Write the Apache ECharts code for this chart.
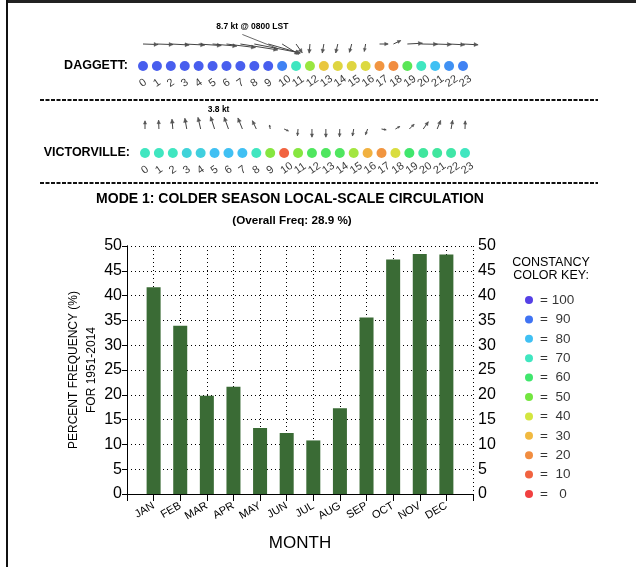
<!DOCTYPE html>
<html>
<head>
<meta charset="utf-8">
<script src="https://cdn.jsdelivr.net/npm/echarts@6/dist/echarts.min.js"></script>
<style>
  html, body { margin: 0; padding: 0; background: #fff; }
  #chart { width: 636px; height: 567px; }
</style>
</head>
<body>
<div id="chart"></div>
<script>
// ---- data ----
const months = ['JAN', 'FEB', 'MAR', 'APR', 'MAY', 'JUN', 'JUL', 'AUG', 'SEP', 'OCT', 'NOV', 'DEC'];
const freq = [41.7, 33.9, 19.8, 21.6, 13.3, 12.3, 10.8, 17.3, 35.6, 47.3, 48.4, 48.3];

const hours = [0, 1, 2, 3, 4, 5, 6, 7, 8, 9, 10, 11, 12, 13, 14, 15, 16, 17, 18, 19, 20, 21, 22, 23];

// Daggett: mean wind speed (kt), direction the arrow points (deg, 0 = east, ccw), constancy (%)
const daggettSpeed = [2.8, 3.0, 3.4, 3.7, 4.2, 4.5, 5.4, 7.0, 8.7, 6.1, 3.6, 2.0, 1.7, 1.7, 1.7, 1.6, 1.4, 1.6, 1.5, 2.8, 3.0, 3.0, 2.9, 2.8];
const daggettDir = [-2, -2, -3, -3, -4, -5, -7, -9, -11, -16, -32, -55, -95, -100, -103, -105, -100, 0, 25, 3, -1, -2, -3, -3];
const daggettConst = [94, 94, 94, 94, 94, 94, 94, 94, 94, 94, 88, 70, 46, 33, 36, 36, 37, 22, 20, 55, 70, 80, 86, 88];

// Victorville
const victorSpeed = [2.4, 2.6, 2.9, 3.2, 3.5, 3.8, 3.7, 3.5, 2.7, 1.2, 1.4, 2.0, 2.4, 2.4, 2.3, 2.1, 1.8, 1.4, 1.5, 2.0, 2.6, 2.7, 2.6, 2.4];
const victorDir = [90, 92, 95, 100, 103, 108, 110, 112, 115, 100, -25, -95, -90, -90, -92, -100, -110, -10, 30, 45, 55, 68, 80, 88];
const victorConst = [70, 70, 70, 75, 76, 80, 80, 80, 70, 48, 10, 48, 57, 57, 57, 45, 28, 22, 38, 60, 66, 66, 67, 70];

// constancy key
const keyValues = [100, 90, 80, 70, 60, 50, 40, 30, 20, 10, 0];
const keyPalette = ['#ee1010', '#ee3c10', '#ee7010', '#eea810', '#c8e010', '#50e010', '#10e048', '#10e0b0', '#10b0f0', '#1050f0', '#2a10e0'];

// ---- styling ----
const FONT = 'Arial, "Liberation Sans", Helvetica, sans-serif';
const chart = echarts.init(document.getElementById('chart'), null, { renderer: 'canvas' });

function pad2(n) { return (n < 10 ? '0' : '') + n; }

// quiver-style arrows anchored at their tail
function arrowSeries(axisIdx, speeds, dirs, pxPerKt, rowY, annot) {
  const maxIdx = speeds.indexOf(Math.max.apply(null, speeds));
  return {
    type: 'custom',
    xAxisIndex: axisIdx,
    yAxisIndex: axisIdx,
    silent: true,
    data: hours.map((h, i) => [h, rowY, speeds[i], dirs[i]]),
    renderItem: function (params, api) {
      const p = api.coord([api.value(0), api.value(1)]);
      const s = api.value(2);
      const a = api.value(3) * Math.PI / 180;
      const len = s * pxPerKt;
      const ux = Math.cos(a), uy = -Math.sin(a);
      const ex = p[0] + ux * len, ey = p[1] + uy * len;
      const hl = Math.min(4, len * 0.4), hw = hl * 0.5;
      const bx = ex - ux * hl, by = ey - uy * hl;
      const children = [
        { type: 'line', shape: { x1: p[0], y1: p[1], x2: ex, y2: ey }, style: { stroke: '#444', lineWidth: 1 } },
        { type: 'polygon', shape: { points: [[bx - uy * hw, by + ux * hw], [ex, ey], [bx + uy * hw, by - ux * hw]] }, style: { fill: '#555', stroke: '#555', lineWidth: 0.4 } }
      ];
      if (params.dataIndex === maxIdx) {
        const mx = (p[0] + ex) / 2, my = (p[1] + ey) / 2;
        const h = api.value(0);
        if (annot === 'full') {
          children.push({ type: 'line', shape: { x1: mx - 35, y1: my - 14, x2: mx, y2: my }, style: { stroke: '#444', lineWidth: 0.8 } });
          children.push({ type: 'text', x: mx - 25, y: my - 22, style: { text: s.toFixed(1) + ' kt @ ' + pad2(h) + '00 LST', font: 'bold 8.5px ' + FONT, fill: '#000', align: 'center', verticalAlign: 'middle' } });
        } else {
          children.push({ type: 'text', x: p[0] + 4, y: p[1] - 19, style: { text: s.toFixed(1) + ' kt', font: 'bold 8.5px ' + FONT, fill: '#000', align: 'center', verticalAlign: 'middle' } });
        }
      }
      return { type: 'group', children: children };
    }
  };
}

// coloured constancy dots with tilted hour numbers beneath
function dotSeries(axisIdx, constancy) {
  return {
    type: 'scatter', xAxisIndex: axisIdx, yAxisIndex: axisIdx, symbolSize: 10,
    data: hours.map((h, i) => [h, 0, constancy[i]]),
    label: {
      show: true, position: 'bottom', distance: 12, rotate: 35,
      align: 'left', verticalAlign: 'middle', offset: [-3, 0],
      fontSize: 11, color: '#000', fontFamily: FONT,
      formatter: p => String(p.value[0])
    }
  };
}

function hourAxis(gridIndex) {
  return { gridIndex: gridIndex, type: 'value', min: 0, max: 23, show: false };
}
function rowAxis(gridIndex) {
  return { gridIndex: gridIndex, type: 'value', min: -10, max: 30, show: false };
}

const dotted = { type: [1, 3], color: '#000', width: 1 };

const option = {
  animation: false,
  backgroundColor: '#fff',
  textStyle: { fontFamily: FONT },
  grid: [
    { left: 127, right: 163, top: 246, bottom: 73 },
    { left: 143, right: 173, top: 36, height: 40 },
    { left: 145, right: 171, top: 123, height: 40 },
    { left: 524, width: 10, top: 300, height: 194 }
  ],
  xAxis: [
    {
      gridIndex: 0, type: 'value', min: 0, max: 13, interval: 1,
      axisLine: { lineStyle: { color: '#000', width: 1 } },
      axisTick: { show: false },
      axisLabel: { formatter: v => months[v - 1] || '', rotate: 30, fontSize: 11, color: '#000', margin: 11, fontFamily: FONT },
      splitLine: { show: true, lineStyle: dotted },
      name: 'MONTH', nameLocation: 'middle', nameGap: 41,
      nameTextStyle: { fontSize: 17, color: '#000', fontFamily: FONT }
    },
    {
      gridIndex: 0, type: 'value', position: 'top', min: 0, max: 13, interval: 1,
      axisLine: { lineStyle: { color: '#000', width: 1 } },
      axisTick: { inside: true, length: 7, lineStyle: { color: '#000' } },
      axisLabel: { show: false }, splitLine: { show: false }
    },
    hourAxis(1),
    hourAxis(2),
    { gridIndex: 3, type: 'value', min: 0, max: 1, show: false }
  ],
  yAxis: [
    {
      gridIndex: 0, type: 'value', min: 0, max: 50, interval: 5,
      axisLine: { show: true, lineStyle: { color: '#000', width: 1 } },
      axisTick: { show: false },
      axisLabel: { fontSize: 16, color: '#000', margin: 5, fontFamily: FONT },
      splitLine: { show: true, lineStyle: dotted },
      name: 'PERCENT FREQUENCY (%)\nFOR 1951-2014', nameLocation: 'middle', nameRotate: 90, nameGap: 26,
      nameMoveOverlap: false,
      nameTextStyle: { fontSize: 12, color: '#000', lineHeight: 18, fontFamily: FONT }
    },
    {
      gridIndex: 0, type: 'value', position: 'right', min: 0, max: 50, interval: 5,
      axisLine: { show: true, lineStyle: { color: '#000', width: 1 } },
      axisTick: { inside: true, length: 5, lineStyle: { color: '#000' } },
      axisLabel: { fontSize: 16, color: '#000', margin: 5, fontFamily: FONT },
      splitLine: { show: false }
    },
    rowAxis(1),
    rowAxis(2),
    { gridIndex: 3, type: 'value', min: 0, max: 100, show: false }
  ],
  visualMap: {
    type: 'continuous', show: false, dimension: 2, min: 0, max: 100,
    seriesIndex: [1, 2, 5],
    inRange: { color: keyPalette }
  },
  series: [
    {
      type: 'bar', xAxisIndex: 0, yAxisIndex: 0, barWidth: 14,
      data: months.map((m, i) => [i + 1, freq[i]]),
      itemStyle: { color: '#3a6b35' }
    },
    dotSeries(2, daggettConst),
    dotSeries(3, victorConst),
    arrowSeries(2, daggettSpeed, daggettDir, 5.4, 22, 'full'),
    arrowSeries(3, victorSpeed, victorDir, 3.4, 24, 'short'),
    {
      type: 'scatter', xAxisIndex: 4, yAxisIndex: 4, symbolSize: 8,
      data: keyValues.map(v => [0.5, v, v]),
      label: {
        show: true, position: 'right', distance: 7, fontSize: 13.5, color: '#000', fontFamily: FONT,
        formatter: p => '= ' + (p.value[1] < 100 ? ' ' : '') + (p.value[1] < 10 ? ' ' : '') + p.value[1]
      }
    }
  ],
  graphic: [
    // page frame
    { type: 'line', shape: { x1: 6, y1: 1.5, x2: 636, y2: 1.5 }, style: { stroke: '#222', lineWidth: 3 } },
    { type: 'line', shape: { x1: 7, y1: 0, x2: 7, y2: 567 }, style: { stroke: '#111', lineWidth: 2 } },
    // separators
    { type: 'line', shape: { x1: 40, y1: 100, x2: 598, y2: 100 }, style: { stroke: '#111', lineWidth: 2, lineDash: [4, 1.5] } },
    { type: 'line', shape: { x1: 40, y1: 183, x2: 598, y2: 183 }, style: { stroke: '#111', lineWidth: 2, lineDash: [4, 1.5] } },
    // station labels
    { type: 'text', x: 128, y: 66, style: { text: 'DAGGETT:', font: 'bold 12.5px ' + FONT, fill: '#000', align: 'right', verticalAlign: 'middle' } },
    { type: 'text', x: 130, y: 153, style: { text: 'VICTORVILLE:', font: 'bold 12.5px ' + FONT, fill: '#000', align: 'right', verticalAlign: 'middle' } },
    // titles
    { type: 'text', x: 290, y: 199, style: { text: 'MODE 1: COLDER SEASON LOCAL-SCALE CIRCULATION', font: 'bold 14px ' + FONT, fill: '#000', align: 'center', verticalAlign: 'middle' } },
    { type: 'text', x: 292, y: 221, style: { text: '(Overall Freq: 28.9 %)', font: 'bold 11.7px ' + FONT, fill: '#000', align: 'center', verticalAlign: 'middle' } },
    // key title
    { type: 'text', x: 551, y: 269, style: { text: 'CONSTANCY\nCOLOR KEY:', font: '12.5px ' + FONT, lineHeight: 13, fill: '#000', align: 'center', verticalAlign: 'middle' } }
  ]
};

chart.setOption(option);
</script>
</body>
</html>
